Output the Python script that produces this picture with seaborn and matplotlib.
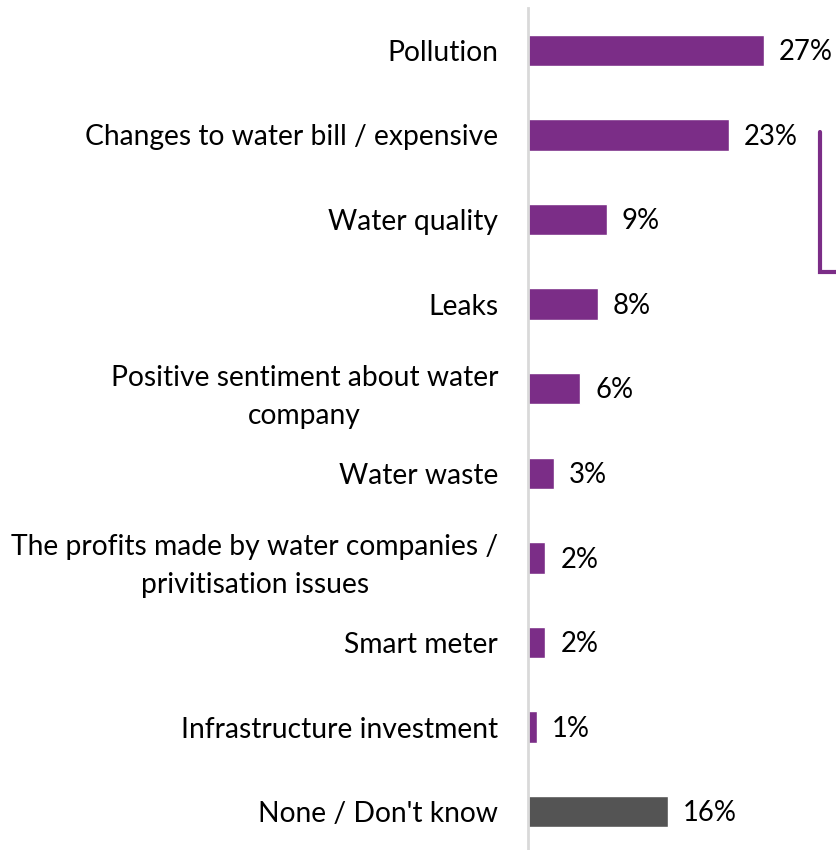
import matplotlib
matplotlib.use("Agg")
import matplotlib.pyplot as plt
import seaborn as sns
import pandas as pd

categories = [
    "Pollution",
    "Changes to water bill / expensive",
    "Water quality",
    "Leaks",
    "Positive sentiment about water\ncompany",
    "Water waste",
    "The profits made by water companies /\nprivitisation issues",
    "Smart meter",
    "Infrastructure investment",
    "None / Don't know",
]
values = [27, 23, 9, 8, 6, 3, 2, 2, 1, 16]
bar_colors = ["#7B2D87"] * 9 + ["#545454"]

df = pd.DataFrame({"category": categories, "value": values})

sns.set_theme(style="white")
plt.rcParams["font.family"] = ["Lato", "DejaVu Sans"]

fig = plt.figure(figsize=(8.36, 8.5), dpi=100)
W, H = 836, 850
ax = fig.add_axes([528 / W, -4 / H, (W - 528) / W, 846 / H])

sns.barplot(data=df, x="value", y="category", hue="category",
            palette=bar_colors, legend=False, width=0.37, ax=ax,
            saturation=1, orient="h")

ax.set_xlim(0, 308 / 8.74)
ax.set_ylim(9.5, -0.5)
ax.set_xlabel("")
ax.set_ylabel("")
ax.set_xticks([])

for s in ["top", "right", "bottom"]:
    ax.spines[s].set_visible(False)
ax.spines["left"].set_color("#D9D9D9")
ax.spines["left"].set_linewidth(2)

ax.tick_params(axis="y", length=0, pad=21.5, labelsize=20.3, labelcolor="black")
for lbl in ax.get_yticklabels():
    lbl.set_multialignment("center")
    lbl.set_linespacing(1.55)

for i, v in enumerate(values):
    ax.text(v + 1.7, i + 0.02, f"{v}%", va="center", ha="left", fontsize=19.8,
            color="black")

# bracket grouping cost-related responses
ax.plot([33.4, 33.4, 35.3], [0.968, 2.62, 2.62], color="#7B2D87", lw=3,
        clip_on=False, solid_joinstyle="miter")

fig.savefig("out.png", dpi=100)
